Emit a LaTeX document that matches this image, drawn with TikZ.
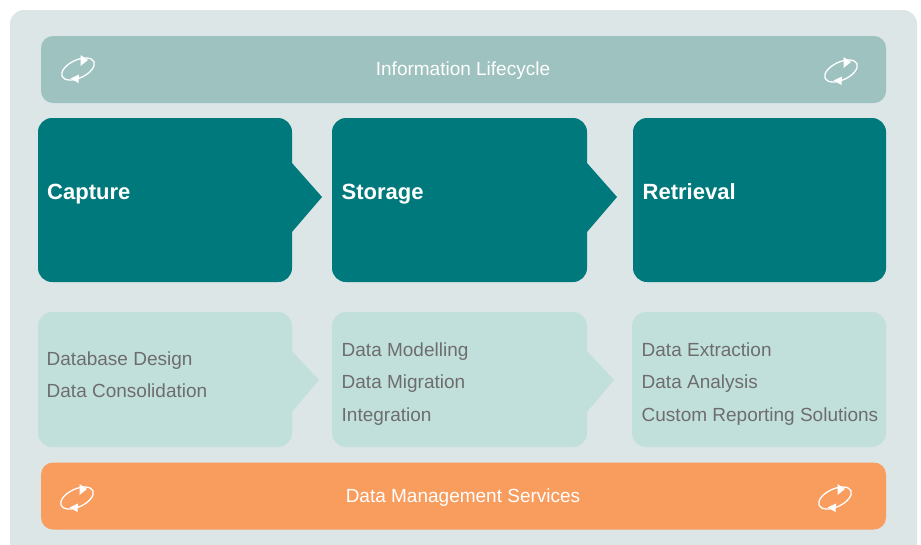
\documentclass[tikz,border=0pt]{standalone}
\usepackage{fontspec}
\setmainfont{Liberation Sans}
\usetikzlibrary{calc}

\definecolor{panelgrey}{HTML}{DDE6E7}
\definecolor{lifecycle}{HTML}{9DC2C0}
\definecolor{stageteal}{HTML}{00797C}
\definecolor{stagelight}{HTML}{C2E0DB}
\definecolor{serviceorange}{HTML}{F99D5F}
\definecolor{itemgrey}{HTML}{6D6D6D}

\tikzset{
  bar/.style={rounded corners=12pt,minimum width=845pt,minimum height=67pt,inner sep=0pt},
  bartext/.style={inner sep=0pt,text=white,font=\fontsize{19}{21}\selectfont},
  stage/.style={fill=stageteal},
  detail/.style={fill=stagelight},
  stagelabel/.style={anchor=west,inner sep=0pt,text=white,text height=15pt,text depth=0pt,
    font=\fontsize{22}{24}\selectfont\bfseries},
  item/.style={anchor=west,inner sep=0pt,text=itemgrey,text height=13pt,text depth=0pt,
    font=\fontsize{19}{21}\selectfont},
  pics/cycle/.style={code={
    \draw[white,line width=1.3pt,rotate=25] (0,0) ellipse [x radius=17.5,y radius=9];
    \fill[white] (2.5,-14) -- (10,-9) -- (2.5,-3) -- cycle;
    \fill[white] (1,5.5) -- (0.5,14) -- (-7.5,9.5) -- cycle;
  }}
}

\begin{document}
\begin{tikzpicture}[x=1pt,y=-1pt]
  \useasboundingbox (0,0) rectangle (921,544);
  \clip (0,0) rectangle (921,544);
  \fill[panelgrey,rounded corners=14pt] (10,10) rectangle (917,570);

  % top and bottom bars
  \node[bar,fill=lifecycle] (lifecycle) at (463.5,69.5) {};
  \node[bartext] (lifecycletext) at (463,70.8) {Information Lifecycle};
  \pic at (78,69) {cycle};
  \pic at (841,71) {cycle};

  \node[bar,fill=serviceorange] (services) at (463.5,496) {};
  \node[bartext] (servicestext) at (463,497.8) {Data Management Services};
  \pic at (77,498) {cycle};
  \pic at (835,498) {cycle};

  % dark stages
  \fill[stage,rounded corners=14pt] (38,118) rectangle (292,282);
  \fill[stage] (292,163) -- (322,197) -- (292,232) -- cycle;
  \fill[stage,rounded corners=14pt] (332,118) rectangle (587,282);
  \fill[stage] (587,163) -- (617,197) -- (587,232) -- cycle;
  \fill[stage,rounded corners=14pt] (633,118) rectangle (886,282);

  \node[stagelabel] (capture) at (47,192) {Capture};
  \node[stagelabel] (storage) at (341.5,192) {Storage};
  \node[stagelabel] (retrieval) at (642.5,192) {Retrieval};

  % light stages
  \fill[detail,rounded corners=14pt] (38,312) rectangle (292,447);
  \fill[detail] (292,351) -- (319,380) -- (292,412) -- cycle;
  \fill[detail,rounded corners=14pt] (332,312) rectangle (587,447);
  \fill[detail] (587,351) -- (614,380) -- (587,412) -- cycle;
  \fill[detail,rounded corners=14pt] (632,312) rectangle (886,447);

  \node[item] (design) at (46.5,358.8) {Database Design};
  \node[item] (consolidation) at (46.5,390.8) {Data Consolidation};
  \node[item] (modelling) at (341.5,349.8) {Data Modelling};
  \node[item] (migration) at (341.5,381.8) {Data Migration};
  \node[item] (integration) at (341.5,414.8) {Integration};
  \node[item] (extraction) at (641.5,349.8) {Data Extraction};
  \node[item] (analysis) at (641.5,381.8) {Data Analysis};
  \node[item] (reporting) at (641.5,414.8) {Custom Reporting Solutions};
\end{tikzpicture}
\end{document}
